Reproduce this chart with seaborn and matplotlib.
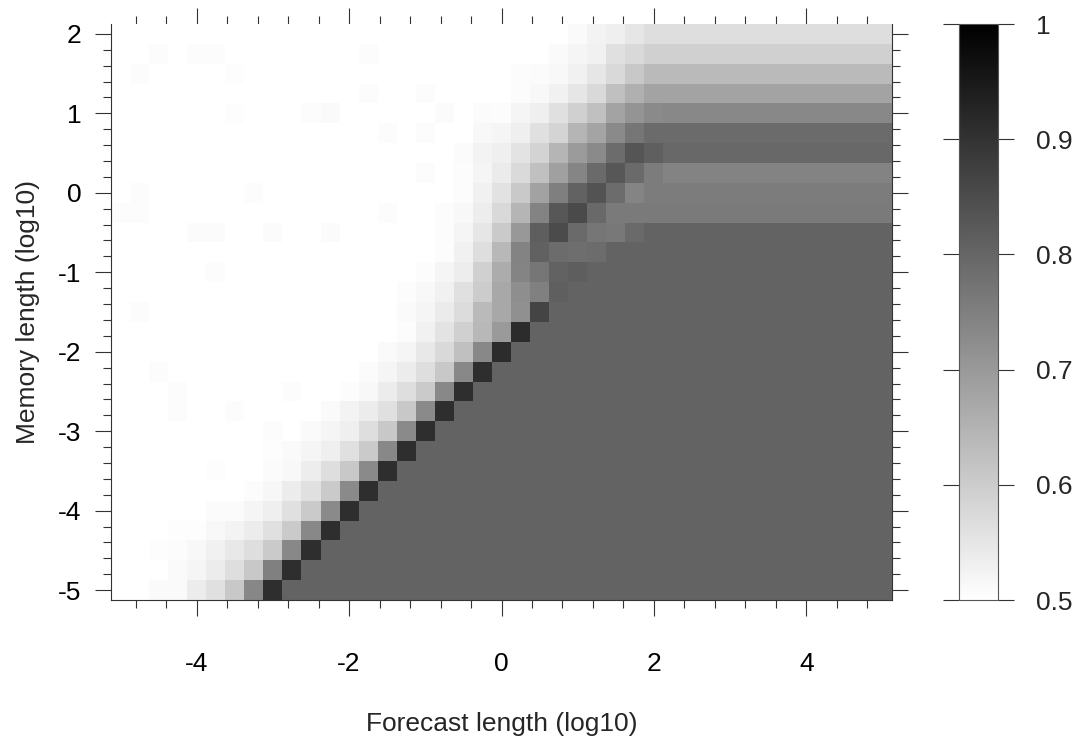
import numpy as np
import pandas as pd
import matplotlib
matplotlib.use("Agg")
import matplotlib.pyplot as plt
from matplotlib.colors import LinearSegmentedColormap
from matplotlib.ticker import FixedLocator
import seaborn as sns

# ---------------- data ----------------
forecast_log10 = list(np.arange(-5.0, 5.0 + 1e-9, 0.25))   # 41 columns
memory_log10 = list(np.arange(-5.0, 2.0 + 1e-9, 0.25))     # 29 rows (bottom -> top)

x_major = [-4, -2, 0, 2, 4]
x_minor = [-4.8, -4.4, -3.6, -3.2, -2.8, -2.4, -1.6, -1.2, -0.8, -0.4,
           0.4, 0.8, 1.2, 1.6, 2.4, 2.8, 3.2, 3.6, 4.4, 4.8]
y_major = [-5, -4, -3, -2, -1, 0, 1, 2]
y_minor = [-4.8, -4.6, -4.4, -4.2, -3.8, -3.6, -3.4, -3.2, -2.8, -2.6, -2.4, -2.2,
           -1.8, -1.6, -1.4, -1.2, -0.8, -0.6, -0.4, -0.2, 0.2, 0.4, 0.6, 0.8,
           1.2, 1.4, 1.6, 1.8]
cbar_ticks = [0.5, 0.6, 0.7, 0.8, 0.9, 1.0]

# rows from memory length -5 (first) to 2 (last); 41 values per row
accuracy = [
    # y=-5.00
    [.5, .5, .51, .51, .539, .561, .608, .735, .91, .806,
     .806, .806, .806, .806, .806, .806, .806, .806, .806, .806,
     .806, .806, .806, .806, .806, .806, .806, .806, .806, .806,
     .806, .806, .806, .806, .806, .806, .806, .806, .806, .806, .806],
    # y=-4.75
    [.5, .5, .5, .51, .52, .539, .565, .608, .749, .91,
     .806, .806, .806, .806, .806, .806, .806, .806, .806, .806,
     .806, .806, .806, .806, .806, .806, .806, .806, .806, .806,
     .806, .806, .806, .806, .806, .806, .806, .806, .806, .806, .806],
    # y=-4.50
    [.5, .5, .504, .506, .514, .529, .545, .565, .604, .733,
     .91, .806, .806, .806, .806, .806, .806, .806, .806, .806,
     .806, .806, .806, .806, .806, .806, .806, .806, .806, .806,
     .806, .806, .806, .806, .806, .806, .806, .806, .806, .806, .806],
    # y=-4.25
    [.5, .5, .5, .504, .504, .514, .524, .539, .561, .604,
     .733, .91, .806, .806, .806, .806, .806, .806, .806, .806,
     .806, .806, .806, .806, .806, .806, .806, .806, .806, .806,
     .806, .806, .806, .806, .806, .806, .806, .806, .806, .806, .806],
    # y=-4.00
    [.5, .5, .5, .5, .5, .508, .508, .52, .533, .561,
     .604, .729, .91, .806, .806, .806, .806, .806, .806, .806,
     .806, .806, .806, .806, .806, .806, .806, .806, .806, .806,
     .806, .806, .806, .806, .806, .806, .806, .806, .806, .806, .806],
    # y=-3.75
    [.5, .5, .5, .5, .5, .5, .5, .506, .517, .539,
     .561, .604, .729, .91, .806, .806, .806, .806, .806, .806,
     .806, .806, .806, .806, .806, .806, .806, .806, .806, .806,
     .806, .806, .806, .806, .806, .806, .806, .806, .806, .806, .806],
    # y=-3.50
    [.5, .5, .5, .5, .5, .504, .5, .5, .508, .514,
     .537, .565, .608, .729, .91, .806, .806, .806, .806, .806,
     .806, .806, .806, .806, .806, .806, .806, .806, .806, .806,
     .806, .806, .806, .806, .806, .806, .806, .806, .806, .806, .806],
    # y=-3.25
    [.5, .5, .5, .5, .5, .5, .5, .5, .504, .51,
     .52, .533, .561, .604, .733, .91, .806, .806, .806, .806,
     .806, .806, .806, .806, .806, .806, .806, .806, .806, .806,
     .806, .806, .806, .806, .806, .806, .806, .806, .806, .806, .806],
    # y=-3.00
    [.5, .5, .5, .5, .5, .5, .5, .5, .506, .5,
     .51, .52, .533, .565, .608, .729, .91, .806, .806, .806,
     .806, .806, .806, .806, .806, .806, .806, .806, .806, .806,
     .806, .806, .806, .806, .806, .806, .806, .806, .806, .806, .806],
    # y=-2.75
    [.5, .5, .5, .506, .5, .5, .506, .5, .5, .5,
     .5, .51, .524, .539, .561, .608, .729, .91, .806, .806,
     .806, .806, .806, .806, .806, .806, .806, .806, .806, .806,
     .806, .806, .806, .806, .806, .806, .806, .806, .806, .806, .806],
    # y=-2.50
    [.5, .5, .5, .506, .5, .5, .5, .5, .5, .506,
     .5, .5, .506, .514, .539, .565, .604, .733, .91, .806,
     .806, .806, .806, .806, .806, .806, .806, .806, .806, .806,
     .806, .806, .806, .806, .806, .806, .806, .806, .806, .806, .806],
    # y=-2.25
    [.5, .5, .506, .5, .5, .5, .5, .5, .5, .5,
     .5, .5, .5, .508, .52, .539, .565, .608, .733, .91,
     .806, .806, .806, .806, .806, .806, .806, .806, .806, .806,
     .806, .806, .806, .806, .806, .806, .806, .806, .806, .806, .806],
    # y=-2.00
    [.5, .5, .5, .5, .5, .5, .5, .5, .5, .5,
     .5, .5, .5, .5, .51, .52, .545, .576, .624, .733,
     .914, .806, .806, .806, .806, .806, .806, .806, .806, .806,
     .806, .806, .806, .806, .806, .806, .806, .806, .806, .806, .806],
    # y=-1.75
    [.5, .5, .5, .5, .5, .5, .5, .5, .5, .5,
     .5, .5, .5, .5, .5, .506, .529, .555, .592, .639,
     .698, .914, .806, .806, .806, .806, .806, .806, .806, .806,
     .806, .806, .806, .806, .806, .806, .806, .806, .806, .806, .806],
    # y=-1.50
    [.5, .506, .5, .5, .5, .5, .5, .5, .5, .5,
     .5, .5, .5, .5, .5, .51, .52, .541, .569, .635,
     .671, .718, .867, .806, .806, .806, .806, .806, .806, .806,
     .806, .806, .806, .806, .806, .806, .806, .806, .806, .806, .806],
    # y=-1.25
    [.5, .5, .5, .5, .5, .5, .5, .5, .5, .5,
     .5, .5, .5, .5, .5, .506, .514, .529, .561, .6,
     .671, .722, .749, .814, .806, .806, .806, .806, .806, .806,
     .806, .806, .806, .806, .806, .806, .806, .806, .806, .806, .806],
    # y=-1.00
    [.5, .5, .5, .5, .5, .506, .5, .5, .5, .5,
     .5, .5, .5, .5, .5, .5, .506, .52, .537, .592,
     .663, .741, .769, .808, .816, .806, .806, .806, .806, .806,
     .806, .806, .806, .806, .806, .806, .806, .806, .806, .806, .806],
    # y=-0.75
    [.5, .5, .5, .5, .5, .5, .5, .5, .5, .5,
     .5, .5, .5, .5, .5, .5, .5, .506, .529, .565,
     .639, .743, .81, .788, .784, .788, .806, .806, .806, .806,
     .806, .806, .806, .806, .806, .806, .806, .806, .806, .806, .806],
    # y=-0.50
    [.5, .5, .5, .5, .508, .508, .5, .5, .508, .5,
     .5, .508, .5, .5, .5, .5, .5, .506, .52, .549,
     .604, .702, .816, .853, .792, .769, .765, .792, .806, .806,
     .806, .806, .806, .806, .806, .806, .806, .806, .806, .806, .806],
    # y=-0.25
    [.506, .506, .5, .5, .5, .5, .5, .5, .5, .5,
     .5, .5, .5, .5, .506, .5, .5, .506, .514, .537,
     .575, .645, .743, .829, .855, .794, .761, .761, .761, .761,
     .761, .761, .761, .761, .761, .761, .761, .761, .761, .761, .761],
    # y=0.00
    [.5, .506, .5, .5, .5, .5, .5, .506, .5, .5,
     .5, .5, .5, .5, .5, .5, .5, .5, .506, .529,
     .557, .606, .682, .751, .808, .837, .788, .741, .757, .757,
     .757, .757, .757, .757, .757, .757, .757, .757, .757, .757, .757],
    # y=0.25
    [.5, .5, .5, .5, .5, .5, .5, .5, .5, .5,
     .5, .5, .5, .5, .5, .5, .506, .5, .506, .52,
     .541, .573, .624, .686, .739, .792, .829, .792, .757, .743,
     .743, .743, .743, .743, .743, .743, .743, .743, .743, .743, .743],
    # y=0.50
    [.5, .5, .5, .5, .5, .5, .5, .5, .5, .5,
     .5, .5, .5, .5, .5, .5, .5, .5, .508, .524,
     .533, .555, .586, .645, .696, .729, .788, .833, .814, .796,
     .796, .796, .796, .796, .796, .796, .796, .796, .796, .796, .796],
    # y=0.75
    [.5, .5, .5, .5, .5, .5, .5, .5, .5, .5,
     .5, .5, .5, .5, .506, .5, .506, .5, .5, .514,
     .52, .533, .561, .584, .645, .678, .729, .769, .79, .79,
     .79, .79, .79, .79, .79, .79, .79, .79, .79, .79, .79],
    # y=1.00
    [.5, .5, .5, .5, .5, .5, .504, .5, .5, .5,
     .506, .51, .5, .5, .5, .5, .5, .508, .5, .508,
     .506, .52, .533, .561, .592, .624, .68, .71, .729, .733,
     .733, .733, .733, .733, .733, .733, .733, .733, .733, .733, .733],
    # y=1.25
    [.5, .5, .5, .5, .5, .5, .5, .5, .5, .5,
     .5, .5, .5, .506, .5, .5, .506, .5, .5, .5,
     .5, .506, .514, .529, .549, .576, .624, .655, .68, .68,
     .68, .68, .68, .68, .68, .68, .68, .68, .68, .68, .68],
    # y=1.50
    [.5, .506, .5, .5, .5, .5, .504, .5, .5, .5,
     .5, .5, .5, .5, .5, .5, .5, .5, .5, .5,
     .5, .506, .508, .514, .529, .549, .576, .608, .635, .635,
     .635, .635, .635, .635, .635, .635, .635, .635, .635, .635, .635],
    # y=1.75
    [.5, .5, .506, .5, .506, .506, .5, .5, .5, .5,
     .5, .5, .5, .506, .5, .5, .5, .5, .5, .5,
     .5, .5, .5, .51, .52, .529, .561, .576, .592, .592,
     .592, .592, .592, .592, .592, .592, .592, .592, .592, .592, .592],
    # y=2.00
    [.5, .5, .5, .5, .5, .5, .5, .5, .5, .5,
     .5, .5, .5, .5, .5, .5, .5, .5, .5, .5,
     .5, .5, .5, .5, .51, .524, .533, .549, .565, .565,
     .565, .565, .565, .565, .565, .565, .565, .565, .565, .565, .565],
]

for r in accuracy:
    assert len(r) == len(forecast_log10), len(r)
assert len(accuracy) == len(memory_log10)

# ---------------- plotting ----------------
sns.set_style("white")
plt.rcParams['font.family'] = ['Liberation Sans', 'DejaVu Sans']
plt.rcParams['axes.unicode_minus'] = False

W, H = 1077, 736
fig = plt.figure(figsize=(W / 100, H / 100), dpi=100)
ax = fig.add_axes([111 / W, 1 - 600 / H, 781 / W, 576 / H])
cax = fig.add_axes([959 / W, 1 - 600 / H, 39 / W, 576 / H])

df = pd.DataFrame(accuracy, index=memory_log10, columns=forecast_log10)
cmap = LinearSegmentedColormap.from_list("white_black", ["#ffffff", "#000000"])
sns.heatmap(df, ax=ax, cmap=cmap, vmin=0.5, vmax=1.0, cbar_ax=cax,
            xticklabels=False, yticklabels=False, linewidths=0)
ax.invert_yaxis()

x_step = forecast_log10[1] - forecast_log10[0]
y_step = memory_log10[1] - memory_log10[0]


def xpos(v):
    return (v - forecast_log10[0]) / x_step + 0.5


def ypos(v):
    return (v - memory_log10[0]) / y_step + 0.5


ax.xaxis.set_major_locator(FixedLocator([xpos(v) for v in x_major]))
ax.set_xticklabels([f"{v:g}" for v in x_major])
ax.xaxis.set_minor_locator(FixedLocator([xpos(v) for v in x_minor]))
ax.yaxis.set_major_locator(FixedLocator([ypos(v) for v in y_major]))
ax.set_yticklabels([f"{v:g}" for v in y_major], rotation=0)
ax.yaxis.set_minor_locator(FixedLocator([ypos(v) for v in y_minor]))

tick_col = "#333333"
ax.tick_params(axis='both', which='major', length=11.5, width=0.8, color=tick_col,
               direction='out', labelsize=19, labelcolor='black')
ax.tick_params(axis='both', which='minor', length=5.8, width=0.8, color=tick_col,
               direction='out')
ax.tick_params(axis='x', which='both', top=True, bottom=True, labeltop=False)
ax.tick_params(axis='y', which='both', left=True, right=True, labelright=False)
ax.tick_params(axis='x', which='major', pad=26)
ax.tick_params(axis='y', which='major', pad=10)

for s in ['left', 'bottom', 'right']:
    ax.spines[s].set_visible(True)
    ax.spines[s].set_linewidth(0.8)
    ax.spines[s].set_color(tick_col)
ax.spines['top'].set_visible(False)

ax.set_xlabel("Forecast length (log10)", fontsize=19, labelpad=26)
ax.set_ylabel("Memory length (log10)", fontsize=19, labelpad=13)

cb = ax.collections[0].colorbar
cb.outline.set_visible(True)
cb.outline.set_linewidth(0.8)
cb.outline.set_edgecolor("#555555")
cb.set_ticks(cbar_ticks)
cb.set_ticklabels([f"{v:g}" for v in cbar_ticks])
cax.minorticks_off()
cax.tick_params(which='major', left=True, right=True, labelleft=False, labelright=True,
                length=11.5, width=0.8, color=tick_col, direction='out',
                labelsize=19, pad=16)

fig.savefig("out.png", dpi=100)
